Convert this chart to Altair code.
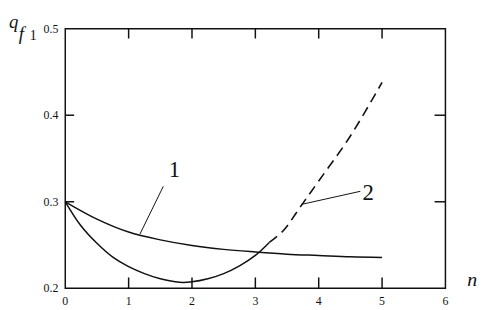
import altair as alt
import pandas as pd

# ---- data ----
n1 = [0, 0.5, 1, 1.5, 2, 2.5, 3, 3.5, 4, 4.5, 5]
q1 = [0.300, 0.280, 0.265, 0.256, 0.2495, 0.245, 0.242, 0.2395, 0.238, 0.2365, 0.2357]

n2_solid = [0, 0.25, 0.5, 0.75, 1, 1.25, 1.5, 1.8, 2, 2.25, 2.5, 2.75, 3, 3.22]
q2_solid = [0.300, 0.272, 0.252, 0.236, 0.225, 0.217, 0.211, 0.207, 0.2075, 0.211, 0.217, 0.226, 0.238, 0.253]

n2_dash = [3.22, 3.44, 3.7, 4, 4.5, 5]
q2_dash = [0.253, 0.2665, 0.293, 0.324, 0.376, 0.438]

label_text = ["1", "2"]
label_n = [1.724, 4.78]
label_q = [0.3368, 0.3106]
lead_n = [1.547, 4.657]
lead_q = [0.3178, 0.3121]
lead_n2 = [1.179, 3.723]
lead_q2 = [0.2627, 0.2969]

x_labels = [0, 1, 2, 3, 4, 5, 6]
x_label_text = ["0", "1", "2", "3", "4", "5", "6"]
y_labels = [0.2, 0.3, 0.4, 0.5]
y_label_text = ["0.2", "0.3", "0.4", "0.5"]
x_inner_ticks = [1, 2, 3, 4, 5]
y_inner_ticks = [0.3, 0.4]

W, H = 385, 263
FONT = "Liberation Serif"
BLACK = "#111111"

xs = alt.Scale(domain=[0, 6], nice=False, zero=False)
ys = alt.Scale(domain=[0.2, 0.5], nice=False, zero=False)


def X(f):
    return alt.X(f, type="quantitative", scale=xs, axis=None, title=None)


def Y(f):
    return alt.Y(f, type="quantitative", scale=ys, axis=None, title=None)


df1 = pd.DataFrame({"n": n1, "q": q1})
df2s = pd.DataFrame({"n": n2_solid, "q": q2_solid})
df2d = pd.DataFrame({"n": n2_dash, "q": q2_dash})
dfl = pd.DataFrame({"t": label_text, "n": label_n, "q": label_q,
                    "a": lead_n, "b": lead_q, "a2": lead_n2, "b2": lead_q2})
dfxt = pd.DataFrame({"n": x_inner_ticks})
dfyt = pd.DataFrame({"q": y_inner_ticks})
dfxl = pd.DataFrame({"n": x_labels, "t": x_label_text})
dfyl = pd.DataFrame({"q": y_labels, "t": y_label_text})

line1 = alt.Chart(df1).mark_line(color=BLACK, strokeWidth=1.5, interpolate="catmull-rom").encode(
    x=X("n"), y=Y("q"))
line2s = alt.Chart(df2s).mark_line(color=BLACK, strokeWidth=1.5, interpolate="catmull-rom").encode(
    x=X("n"), y=Y("q"))
line2d = alt.Chart(df2d).mark_line(color=BLACK, strokeWidth=1.6, interpolate="catmull-rom",
                                   strokeDash=[10, 6]).encode(x=X("n"), y=Y("q"))

leaders = alt.Chart(dfl).mark_rule(color=BLACK, strokeWidth=1).encode(
    x=X("a"), y=Y("b"), x2=alt.X2("a2"), y2=alt.Y2("b2"))
labels = alt.Chart(dfl).mark_text(font=FONT, fontSize=23, color=BLACK).encode(
    x=X("n"), y=Y("q"), text="t:N")

tick_bottom = alt.Chart(dfxt).mark_rule(color=BLACK, strokeWidth=1.5).encode(
    x=X("n"), y=alt.value(H), y2=alt.value(H - 11))
tick_top = alt.Chart(dfxt).mark_rule(color=BLACK, strokeWidth=1.5).encode(
    x=X("n"), y=alt.value(0), y2=alt.value(10))
tick_left = alt.Chart(dfyt).mark_rule(color=BLACK, strokeWidth=1.5).encode(
    y=Y("q"), x=alt.value(0), x2=alt.value(9))
tick_right = alt.Chart(dfyt).mark_rule(color=BLACK, strokeWidth=1.5).encode(
    y=Y("q"), x=alt.value(W), x2=alt.value(W - 11))

xlab = alt.Chart(dfxl).mark_text(font=FONT, fontSize=12, color=BLACK, baseline="middle").encode(
    x=X("n"), y=alt.value(H + 13), text="t:N")
ylab = alt.Chart(dfyl).mark_text(font=FONT, fontSize=12, color=BLACK, align="right",
                                 baseline="middle").encode(
    y=Y("q"), x=alt.value(-7), text="t:N")

title_q = alt.Chart(pd.DataFrame({"t": ["q"]})).mark_text(
    font=FONT, fontSize=19, fontStyle="italic", color=BLACK, align="left", baseline="alphabetic"
).encode(x=alt.value(-57), y=alt.value(-1), text="t:N")
title_f = alt.Chart(pd.DataFrame({"t": ["f"]})).mark_text(
    font=FONT, fontSize=19, fontStyle="italic", color=BLACK, align="left", baseline="alphabetic"
).encode(x=alt.value(-47), y=alt.value(12), text="t:N")
title_1 = alt.Chart(pd.DataFrame({"t": ["1"]})).mark_text(
    font=FONT, fontSize=14, color=BLACK, align="left", baseline="alphabetic"
).encode(x=alt.value(-36), y=alt.value(11), text="t:N")
title_n = alt.Chart(pd.DataFrame({"t": ["n"]})).mark_text(
    font=FONT, fontSize=20, fontStyle="italic", color=BLACK, align="center", baseline="middle"
).encode(x=alt.value(412), y=alt.value(255), text="t:N")

chart = alt.layer(
    line1, line2s, line2d, leaders, labels,
    tick_bottom, tick_top, tick_left, tick_right,
    xlab, ylab,
    title_q, title_f, title_1, title_n,
).properties(
    width=W, height=H,
    autosize=alt.AutoSizeParams(type="none"),
    padding={"left": 58, "top": 19, "right": 34, "bottom": 18},
    background="white",
).configure_view(stroke=BLACK, strokeWidth=1.5).configure_text(font=FONT)

chart.save("out.html", embed_options={"renderer": "svg", "actions": False})
